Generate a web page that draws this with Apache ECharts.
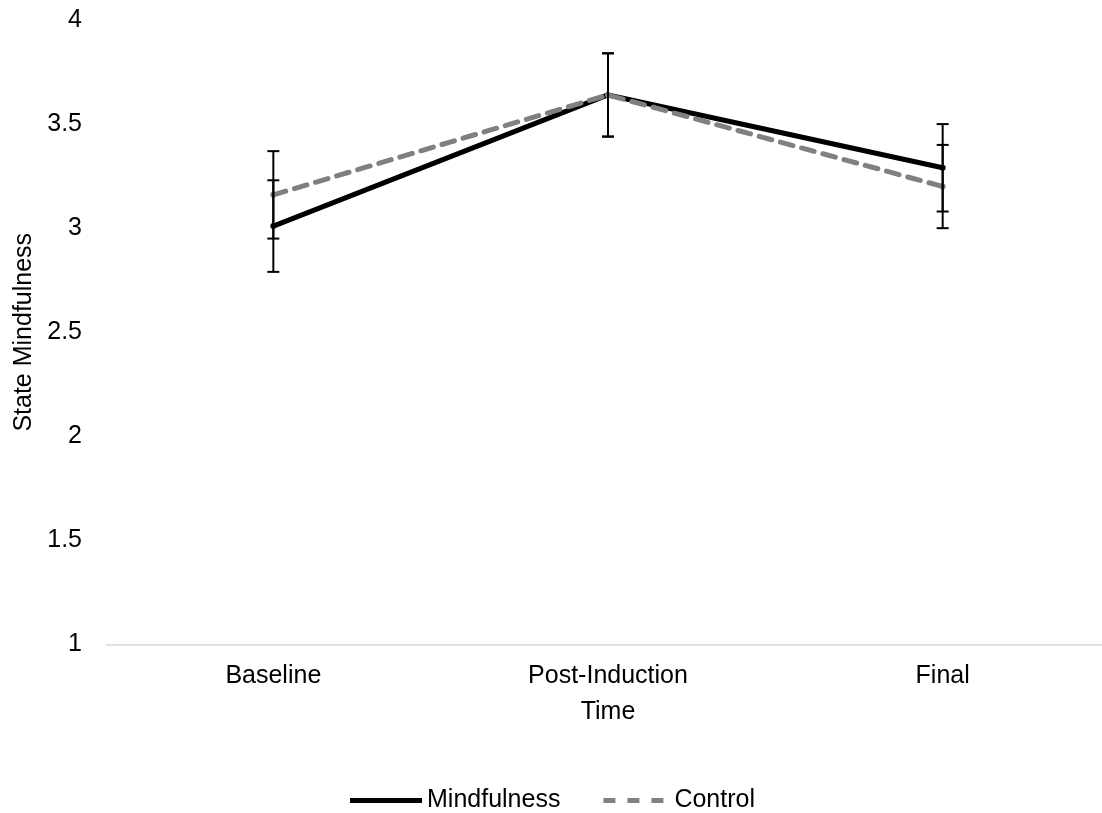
<!DOCTYPE html>
<html>
<head>
<meta charset="utf-8">
<script src="https://cdn.jsdelivr.net/npm/echarts@6/dist/echarts.min.js"></script>
<style>html,body{margin:0;padding:0;background:#fff;overflow:hidden;}#c{width:1102px;height:813px;}</style>
</head>
<body>
<div id="c"></div>
<script>
const categories = ['Baseline', 'Post-Induction', 'Final'];
const mindMean = [3.01, 3.64, 3.29];
const mindErr = [0.22, 0.20, 0.21];
const ctrlMean = [3.16, 3.64, 3.20];
const ctrlErr = [0.21, 0.20, 0.20];
const yTicks = {min: 1, max: 4, interval: 0.5};

function errRows(mean, err) {
  return mean.map((m, i) => [i, m - err[i], m + err[i]]);
}
function renderErr(params, api) {
  const lo = api.coord([api.value(0), api.value(1)]);
  const hi = api.coord([api.value(0), api.value(2)]);
  const hw = 6;
  const st = {stroke: '#000', lineWidth: 2};
  return {
    type: 'group',
    children: [
      {type: 'line', shape: {x1: lo[0], y1: lo[1], x2: hi[0], y2: hi[1]}, style: st},
      {type: 'line', shape: {x1: lo[0] - hw, y1: lo[1], x2: lo[0] + hw, y2: lo[1]}, style: st},
      {type: 'line', shape: {x1: hi[0] - hw, y1: hi[1], x2: hi[0] + hw, y2: hi[1]}, style: st}
    ]
  };
}
const font = 'Liberation Sans, Arial, sans-serif';
const fs = 25;
const chart = echarts.init(document.getElementById('c'));
chart.setOption({
  animation: false,
  backgroundColor: '#fff',
  textStyle: {fontFamily: font},
  grid: {left: 106, right: -8, top: 20, bottom: 168.5, containLabel: false, outerBoundsMode: 'none'},
  xAxis: {
    type: 'category', data: categories, boundaryGap: true,
    name: 'Time', nameLocation: 'middle', nameGap: 55,
    nameTextStyle: {fontSize: fs, color: '#000', fontFamily: font},
    axisLine: {lineStyle: {color: '#d9d9d9', width: 1.5}},
    axisTick: {show: false},
    axisLabel: {fontSize: fs, color: '#000', margin: 19, fontFamily: font}
  },
  yAxis: {
    type: 'value', min: yTicks.min, max: yTicks.max, interval: yTicks.interval,
    name: 'State Mindfulness', nameLocation: 'middle', nameGap: 69, nameRotate: 90,
    nameTextStyle: {fontSize: fs, color: '#000', fontFamily: font},
    axisLine: {show: false}, axisTick: {show: false}, splitLine: {show: false},
    axisLabel: {fontSize: fs, color: '#000', margin: 24, fontFamily: font}
  },
  legend: {
    top: 783, left: 345, itemWidth: 72, itemHeight: 5, itemGap: 43,
    textStyle: {fontSize: fs, color: '#000', fontFamily: font},
    data: [
      {name: 'Mindfulness', icon: 'path://M0 0H72V5H0Z', itemStyle: {color: '#000'}},
      {name: 'Control', icon: 'path://M2 0H14V5H2Z M26 0H38V5H26Z M50 0H62V5H50Z', itemStyle: {color: '#808080'}}
    ]
  },
  series: [
    {
      name: 'Mindfulness', type: 'line', data: mindMean,
      symbol: 'circle', symbolSize: 6, z: 3,
      itemStyle: {color: '#000'},
      lineStyle: {color: '#000', width: 5}
    },
    {
      name: 'Control', type: 'line', data: ctrlMean,
      symbol: 'circle', symbolSize: 6, z: 4,
      itemStyle: {color: '#808080'},
      lineStyle: {color: '#808080', width: 5, type: [13, 9], cap: 'round'}
    },
    {
      type: 'custom', renderItem: renderErr, data: errRows(mindMean, mindErr), z: 5,
      encode: {x: 0, y: [1, 2]}, silent: true
    },
    {
      type: 'custom', renderItem: renderErr, data: errRows(ctrlMean, ctrlErr), z: 5,
      encode: {x: 0, y: [1, 2]}, silent: true
    }
  ]
});
</script>
</body>
</html>
